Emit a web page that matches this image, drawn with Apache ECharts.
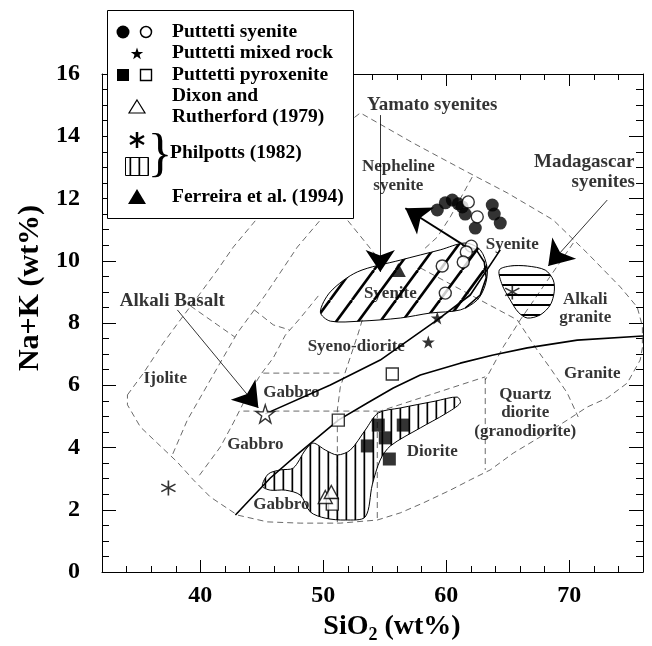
<!DOCTYPE html>
<html><head><meta charset="utf-8">
<script src="https://cdn.jsdelivr.net/npm/echarts@6/dist/echarts.min.js"></script>
<style>html,body{margin:0;padding:0;background:#fff}#c{width:652px;height:646px}</style>
</head><body><div id="c"></div><script>
const FONT = '"Liberation Serif","Times New Roman",Times,serif';

// ---------- tick values ----------
const xMajorTicks = [40, 50, 60, 70];
const xMinorTicks = [32,34,36,38,40,42,44,46,48,50,52,54,56,58,60,62,64,66,68,70,72,74,76];

// ---------- sample points [SiO2, Na+K] ----------
const syeniteFilled = [[59.27,11.63],[59.92,11.86],[60.49,11.95],[60.98,11.83],[61.30,11.73],[61.54,11.50],[62.36,11.05],[63.74,11.79],[63.90,11.50],[64.39,11.21]];
const syeniteOpen = [[61.79,11.89],[62.52,11.41],[62.03,10.47],[61.63,10.28],[61.38,9.96],[59.67,9.83],[59.92,8.96]];
const mixedRock = [[59.27,8.16],[58.54,7.39]];
const alkaliBasalt = [[45.28,5.08]];
const pyroxeniteFilled = [[53.58,4.05],[54.47,4.72],[55.04,4.31],[55.37,3.63],[56.50,4.72]];
const pyroxeniteOpen = [[55.61,6.36],[51.22,4.88],[50.73,2.18]];
const dixonRutherford = [[50.16,2.41],[50.65,2.57]];
const philpottsPoints = [[37.40,2.70],[65.37,9.00]];
const ferreira = [[56.10,9.70]];

// ---------- field boundaries (dashed) ----------
const outerBoundary = [[34.07,5.69],[35.37,6.39],[36.99,7.36],[38.37,8.10],[40.00,8.96],[41.38,9.70],[42.68,10.44],[44.31,11.21],[47.32,12.66],[50.16,13.88],[53.01,14.75],[57.32,13.78],[61.71,12.85],[64.96,12.18],[68.70,11.31],[71.46,10.25],[74.15,9.16],[75.53,8.51],[75.95,7.9],[75.95,7.2],[75.77,6.81],[74.72,6.07],[73.09,5.59],[71.46,5.30],[69.84,4.88],[67.64,4.34],[65.45,3.82],[63.58,3.28],[61.95,2.96],[60.33,2.63],[58.13,2.22],[56.26,1.90],[54.39,1.67],[51.38,1.57],[48.13,1.57],[45.45,1.61],[43.01,1.83],[40.81,2.41],[39.43,2.96],[38.13,3.53],[36.50,4.14],[35.12,4.66],[34.07,5.37],[34.07,5.69]];
const lineD2 = [[50.6,11.8],[49.76,11.31],[47.89,10.44],[45.28,8.90],[43.01,7.68],[40.81,6.17],[38.94,4.88],[37.72,3.76]];
const lineD3 = [[49.59,8.87],[48.13,8.16],[46.91,7.61],[45.93,6.88],[44.88,6.33],[43.50,5.43],[42.68,4.79],[41.63,4.02],[39.76,3.02]];
const lineT1 = [[39.19,8.55],[42.8,7.55]];
const lineT2 = [[44.39,8.42],[45.93,7.94],[47.24,7.78]];
const lineH1 = [[45.12,6.39],[51.38,6.39]];
const lineH2 = [[43.50,5.17],[54.39,5.17]];
const lineV1 = [[53.17,8.10],[52.85,7.68],[52.20,6.91],[51.38,5.94],[51.14,5.20],[51.14,1.57]];
const lineV2 = [[54.39,5.14],[54.39,1.67]];
const lineV3 = [[63.17,6.23],[63.17,3.28]];
const lineD5 = [[54.39,5.14],[57.89,5.59],[61.14,6.01],[63.17,6.27]];
const lineLa = [[70.33,10.57],[68.70,9.64],[66.02,8.10],[64.63,7.23],[63.17,6.17]];
const lineLb = [[57.89,9.77],[61.71,8.96],[65.77,8.10],[67.40,7.13],[68.46,6.55],[69.84,5.75],[70.73,4.98]];
const lineLc = [[51.5,11.9],[51.95,11.31],[54.39,10.12]];
const lineLd = [[62.11,12.69],[60.33,11.41],[59.27,10.76],[58.13,10.35]];
const dashedLines = [outerBoundary, lineD2, lineD3, lineT1, lineT2, lineH1, lineH2, lineV1, lineV2, lineV3, lineD5, lineLa, lineLb, lineLc, lineLd];

// ---------- solid lines ----------
const alkalineDivide = [[42.85,1.83],[45.69,3.02],[48.13,3.86],[51.22,4.88],[53.58,5.43],[55.69,5.91],[57.89,6.33],[61.14,6.71],[63.82,6.97],[66.59,7.20],[70.65,7.45],[76.0,7.58]];
const yamatoTrend = [[45.28,5.08],[50.57,6.01],[54.63,6.81],[59.27,8.10],[61.95,8.90],[64.39,10.35]];
const yamatoEnd = [[61.30,10.51],[62.44,10.35],[63.09,9.96],[63.25,9.45],[62.76,8.90],[61.54,8.48]];

// ---------- hatched fields ----------
const yamatoField = [[49.76,8.35],[50.57,9.00],[52.76,9.64],[56.26,10.02],[59.51,10.35],[61.54,10.57],[62.76,10.35],[63.33,9.77],[63.17,9.22],[62.52,8.74],[61.14,8.42],[58.70,8.32],[56.26,8.16],[53.01,8.06],[50.57,8.06]];
const madagascarField = [[64.31,9.70],[65.20,9.83],[66.59,9.83],[68.05,9.70],[68.70,9.38],[68.78,9.00],[68.46,8.58],[67.64,8.26],[66.59,8.16],[65.85,8.35],[65.20,8.74],[64.55,9.22]];
const philpottsField = [[45.04,2.76],[45.53,3.15],[46.50,3.28],[47.56,3.34],[48.54,3.92],[49.19,4.14],[50.16,3.92],[51.14,3.76],[52.20,3.92],[53.41,4.56],[54.47,5.11],[56.26,5.27],[59.11,5.49],[60.89,5.62],[61.14,5.43],[59.92,5.08],[57.89,4.63],[55.45,4.05],[54.63,3.60],[53.98,2.80],[53.41,1.77],[51.79,1.67],[50.16,1.73],[48.94,1.93],[48.13,2.47],[46.91,2.63],[45.69,2.63]];

// ---------- arrows [from, to] ----------
const arrowAlkaliBasalt = [[38.13,8.42],[44.72,5.27]];
const arrowYamato = [[54.63,14.68],[54.63,9.64]];
const arrowTrend = [[61.38,10.51],[56.67,11.69]];
const arrowMadagascar = [[73.09,11.95],[68.29,9.83]];

// ---------- text annotations [SiO2, Na+K, text] ----------
const calloutLabels = [[37.72,8.71,'Alkali Basalt'],[58.86,15.00,'Yamato syenites'],[71.22,13.17,'Madagascar'],[72.76,12.53,'syenites']];
const fieldLabels = [[56.10,13.01,'Nepheline'],[56.10,12.43,'syenite'],[55.45,8.96,'Syenite'],[65.37,10.51,'Syenite'],[71.30,8.74,'Alkali'],[71.30,8.16,'granite'],[71.87,6.39,'Granite'],[66.42,5.69,'Quartz'],[66.42,5.11,'diorite'],[66.42,4.50,'(granodiorite)'],[58.86,3.86,'Diorite'],[52.68,7.23,'Syeno-diorite'],[47.40,5.75,'Gabbro'],[44.47,4.08,'Gabbro'],[46.59,2.18,'Gabbro'],[37.15,6.20,'Ijolite']];

// ---------- helpers ----------
function makePattern(kind){
  const c = document.createElement('canvas'); const g = c.getContext('2d');
  if (kind === 'v') { c.width = 9; c.height = 9; g.fillStyle = '#000'; g.fillRect(3.5, 0, 1.7, 9); }
  else if (kind === 'h') { c.width = 10; c.height = 10; g.fillStyle = '#000'; g.fillRect(0, 4, 10, 2); }
  else { const w = 22, h = 30; c.width = w; c.height = h; g.strokeStyle = '#000'; g.lineWidth = 2.6;
    [-w, 0, w].forEach(dx => { g.beginPath(); g.moveTo(dx, h); g.lineTo(dx + w, 0); g.stroke(); }); }
  return c;
}
const patV = makePattern('v'), patH = makePattern('h'), patD = makePattern('d');
const STAR = 'path://M50 0 L61.8 35.1 L97.6 34.5 L68.8 56.2 L79.4 90.5 L50 69.5 L20.6 90.5 L31.2 56.2 L2.4 34.5 L38.2 35.1 Z';
const AST = 'path://M45 0 L55 0 L55 100 L45 100 Z M4.2 29.3 L9.2 20.7 L95.8 70.7 L90.8 79.3 Z M9.2 79.3 L4.2 70.7 L90.8 20.7 L95.8 29.3 Z';

function polySeries(points, pat, z){
  return {type:'custom', coordinateSystem:'cartesian2d', silent:true, z:z, clip:true, data:[points[0]],
    renderItem:(params, api)=>({type:'polygon', shape:{points: points.map(p=>api.coord(p)), smooth:0.3},
      style:{fill:{image:pat, repeat:'repeat'}, stroke:'#000', lineWidth:1}})};
}
function lineSeries(data, style, z){
  return {type:'line', data:data, symbol:'none', showSymbol:false, silent:true, clip:true, z:z, lineStyle:style, animation:false};
}
function arrowSeries(coords, width, size){
  return {type:'lines', coordinateSystem:'cartesian2d', silent:true, z:6, symbol:['none','arrow'], symbolSize:[1,size],
    lineStyle:{color:'#000', width:width, opacity:1}, data:[{coords:coords}]};
}
function scatterSeries(data, symbol, size, fill, z){
  return {type:'scatter', data:data, symbol:symbol, symbolSize:size, silent:true, z:z||8,
    itemStyle: fill ? {color:'#000', borderWidth:0} : {color:'#fff', borderColor:'#000', borderWidth:1.4}};
}
function starPts(cx, cy, R){
  const pts = []; for (let k = 0; k < 10; k++){ const a = -Math.PI/2 + k*Math.PI/5; const r = k%2 ? R*0.4 : R; pts.push([cx + r*Math.cos(a), cy + r*Math.sin(a)]); } return pts;
}

const series = [];
dashedLines.forEach(l => series.push(lineSeries(l, {type:[6,4], width:0.8, color:'#444'}, 1)));
series.push(polySeries(philpottsField, patV, 2));
series.push(polySeries(madagascarField, patH, 2));
series.push(polySeries(yamatoField, patD, 2));
series.push(lineSeries(alkalineDivide, {width:1.6, color:'#000'}, 3));
series.push(lineSeries(yamatoTrend, {width:1.6, color:'#000'}, 3));
series.push(lineSeries(yamatoEnd, {width:1.6, color:'#000'}, 3));
series.push(arrowSeries(arrowAlkaliBasalt, 0.8, 24));
series.push(arrowSeries(arrowYamato, 0.8, 22));
series.push(arrowSeries(arrowTrend, 1.8, 24));
series.push(arrowSeries(arrowMadagascar, 0.8, 24));
series.push({type:'scatter', silent:true, z:5, symbolSize:1, itemStyle:{color:'rgba(0,0,0,0)'},
  data: calloutLabels.map(d=>({value:[d[0],d[1]], name:d[2]})),
  label:{show:true, position:'inside', formatter:'{b}', color:'#000', fontFamily:FONT, fontWeight:'bold', fontSize:19}});
series.push({type:'scatter', silent:true, z:5, symbolSize:1, itemStyle:{color:'rgba(0,0,0,0)'},
  data: fieldLabels.map(d=>({value:[d[0],d[1]], name:d[2]})),
  label:{show:true, position:'inside', formatter:'{b}', color:'#000', fontFamily:FONT, fontWeight:'bold', fontSize:17}});
series.push(scatterSeries(syeniteFilled, 'circle', 13, true));
series.push(scatterSeries(syeniteOpen, 'circle', 12, false));
series.push(scatterSeries(mixedRock, STAR, 13, true));
series.push(scatterSeries(alkaliBasalt, STAR, 18, false));
series.push(scatterSeries(pyroxeniteFilled, 'rect', 13, true));
series.push(scatterSeries(pyroxeniteOpen, 'rect', 12, false));
series.push(scatterSeries(dixonRutherford, 'triangle', [14,13], false));
series.push(scatterSeries(philpottsPoints, AST, 15, true));
series.push(scatterSeries(ferreira, 'triangle', [15,14], true));

const tickLabel = {fontSize:24, fontWeight:'bold', fontFamily:FONT, color:'#000'};
function xAx(pos, major){
  return {type:'value', min:32, max:76, interval:2, position:pos, offset:0,
    axisLine:{show:!major, lineStyle:{color:'#000', width:1}},
    axisTick:{show:true, inside:true, length: major ? 12 : 6, customValues: major ? xMajorTicks : xMinorTicks, lineStyle:{color:'#000', width:1}},
    axisLabel: (major && pos === 'bottom') ? Object.assign({show:true, margin:12, customValues:xMajorTicks}, tickLabel) : {show:false},
    splitLine:{show:false}};
}
function yAx(pos){
  return {type:'value', min:0, max:16, interval:2, position:pos, offset:0,
    axisLine:{show:true, lineStyle:{color:'#000', width:1}},
    axisTick:{show:true, inside:true, length:14, lineStyle:{color:'#000', width:1}},
    minorTick:{show:true, splitNumber:4, length:7, lineStyle:{color:'#000', width:1}},
    axisLabel: pos === 'left' ? Object.assign({show:true, margin:22}, tickLabel) : {show:false},
    splitLine:{show:false}};
}

const L = (t, x, y) => ({type:'text', z:101, style:{text:t, x:x, y:y, font:'bold 19.5px ' + FONT, fill:'#000', textAlign:'left', textVerticalAlign:'middle', align:'left', verticalAlign:'middle'}});
const graphic = [
  {type:'rect', z:100, shape:{x:107.5, y:10.5, width:246, height:208}, style:{fill:'#fff', stroke:'#000', lineWidth:1}},
  {type:'circle', z:101, shape:{cx:123, cy:32, r:6.5}, style:{fill:'#000'}},
  {type:'circle', z:101, shape:{cx:146, cy:32, r:5.5}, style:{fill:'#fff', stroke:'#000', lineWidth:1.5}},
  L('Puttetti syenite', 172, 32),
  {type:'polygon', z:101, shape:{points: starPts(137, 54, 6.5)}, style:{fill:'#000'}},
  L('Puttetti mixed rock', 172, 53),
  {type:'rect', z:101, shape:{x:117, y:69, width:12, height:12}, style:{fill:'#000'}},
  {type:'rect', z:101, shape:{x:140.5, y:69.5, width:11, height:11}, style:{fill:'#fff', stroke:'#000', lineWidth:1.4}},
  L('Puttetti pyroxenite', 172, 75),
  {type:'polygon', z:101, shape:{points:[[137,100],[145,113],[129,113]]}, style:{fill:'#fff', stroke:'#000', lineWidth:1.2}},
  L('Dixon and', 172, 96),
  L('Rutherford (1979)', 172, 117),
  {type:'line', z:101, shape:{x1:137, y1:132, x2:137, y2:148}, style:{stroke:'#000', lineWidth:2.5}},
  {type:'line', z:101, shape:{x1:130, y1:136, x2:144, y2:144}, style:{stroke:'#000', lineWidth:2.5}},
  {type:'line', z:101, shape:{x1:130, y1:144, x2:144, y2:136}, style:{stroke:'#000', lineWidth:2.5}},
  {type:'rect', z:101, shape:{x:125.5, y:157.5, width:23, height:18}, style:{fill:{image:patV, repeat:'repeat'}, stroke:'#000', lineWidth:1}},
  {type:'text', z:101, style:{text:'}', x:160, y:156, font:'52px ' + FONT, fill:'#000', textAlign:'center', textVerticalAlign:'middle', align:'center', verticalAlign:'middle'}},
  L('Philpotts (1982)', 170, 153),
  {type:'polygon', z:101, shape:{points:[[137,189],[146,204],[128,204]]}, style:{fill:'#000'}},
  L('Ferreira et al. (1994)', 172, 197),
  {type:'text', z:50, x:30, y:288, rotation:Math.PI/2,
    style:{text:'Na+K (wt%)', x:0, y:0, font:'bold 30px ' + FONT, fill:'#000', textAlign:'center', textVerticalAlign:'middle', align:'center', verticalAlign:'middle'}},
  {type:'text', z:50, x:392, y:627,
    style:{text:'{a|SiO}{s|2}{a| (wt%)}', x:0, y:0, fill:'#000', textAlign:'center', textVerticalAlign:'middle', align:'center', verticalAlign:'middle',
      rich:{a:{font:'bold 28px ' + FONT, fill:'#000', lineHeight:34, verticalAlign:'middle'}, s:{font:'bold 18px ' + FONT, fill:'#000', lineHeight:34, verticalAlign:'bottom', padding:[0,0,0,0]}}}}
];

const chart = echarts.init(document.getElementById('c'), null, {renderer:'canvas'});
chart.setOption({
  animation:false,
  backgroundColor:'#fff',
  grid:{left:102, right:9, top:74, bottom:74, containLabel:false, outerBoundsMode:'none'},
  xAxis:[xAx('bottom', false), xAx('bottom', true), xAx('top', false), xAx('top', true)],
  yAxis:[yAx('left'), yAx('right')],
  series: series,
  graphic: graphic
});
</script></body></html>
